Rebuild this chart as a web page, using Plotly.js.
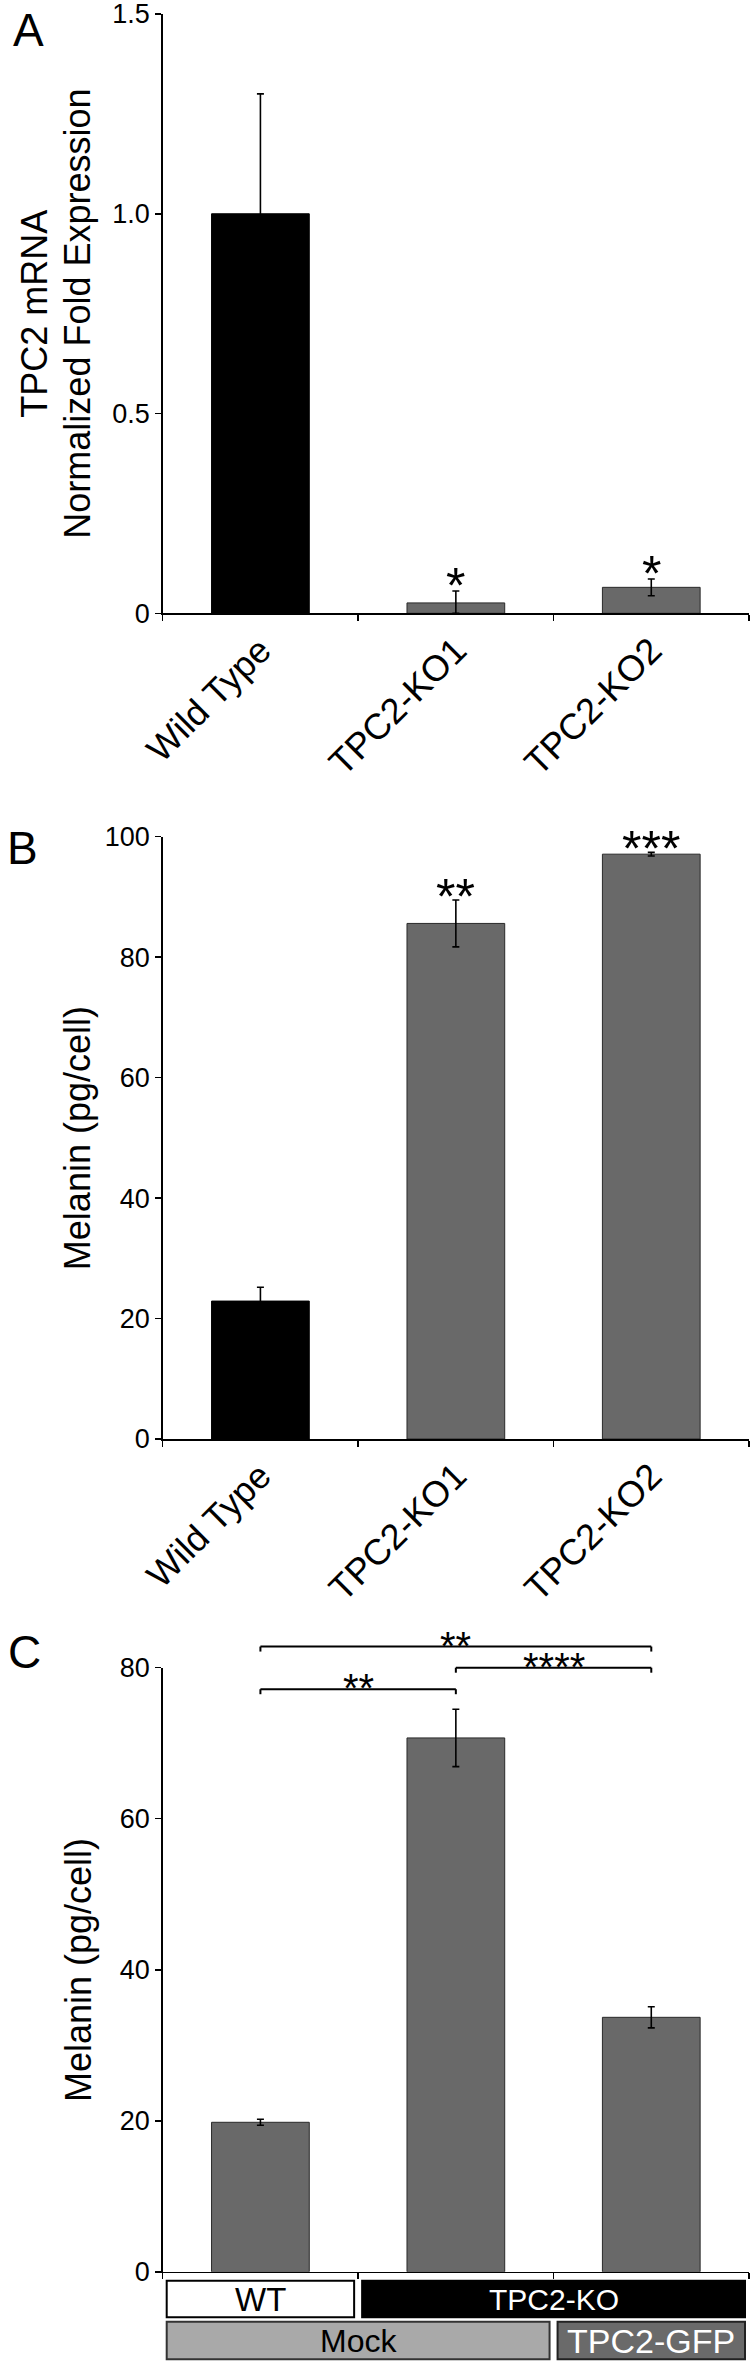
<!DOCTYPE html>
<html>
<head>
<meta charset="utf-8">
<script src="https://cdn.plot.ly/plotly-3.0.1.min.js"></script>
<style>
html,body{margin:0;padding:0;background:#fff;}
#chart{width:752px;height:2362px;}
</style>
</head>
<body>
<div id="chart"></div>
<script>
// ---------------- DATA ----------------
const categoriesAB = ["Wild Type", "TPC2-KO1", "TPC2-KO2"];
const mrnaValues = [1.0, 0.026, 0.065];
const mrnaErrPlus = [0.30, 0.030, 0.021];
const mrnaErrMinus = [0.30, 0.026, 0.021];
const mrnaStars = ["", "*", "*"];

const melaninBValues = [22.9, 85.6, 97.1];
const melaninBErr = [2.3, 3.9, 0.3];
const melaninBStars = ["", "**", "***"];

const categoriesC = ["WT / Mock", "TPC2-KO / Mock", "TPC2-KO / TPC2-GFP"];
const melaninCValues = [19.8, 70.7, 33.7];
const melaninCErr = [0.4, 3.8, 1.4];

// significance comparisons: category index from, to, bracket level (pg/cell), label
const compFrom = [0, 1, 0];
const compTo = [1, 2, 2];
const compLevel = [77.15, 80.0, 82.8];
const compLabel = ["**", "****", "**"];

// group rows under panel C
const genotypeLabels = ["WT", "TPC2-KO"];
const genotypeSpans = [[0, 0], [1, 2]];
const treatmentLabels = ["Mock", "TPC2-GFP"];
const treatmentSpans = [[0, 1], [2, 2]];

const yTicksA = [0, 0.5, 1.0, 1.5];
const yTickTextA = ["0", "0.5", "1.0", "1.5"];
const yTicksB = [0, 20, 40, 60, 80, 100];
const yTicksC = [0, 20, 40, 60, 80];

// ---------------- STYLE / LAYOUT ----------------
const FONT = "Liberation Sans, Arial, Helvetica, sans-serif";
const W = 752, H = 2362;
const GRAY = "#696969";
const X_RANGE = [-0.5, 2.5];
const xDom = [162.7 / W, 749 / W];
const domA = [1 - 613.3 / H, 1 - 14 / H];
const domB = [1 - 1439 / H, 1 - 836.7 / H];
const domC = [1 - 2271.8 / H, 1 - 1667.7 / H];
const rngA = [0, 1.5], rngB = [0, 100], rngC = [0, 80];

function xFrac(c) { return (c - X_RANGE[0]) / (X_RANGE[1] - X_RANGE[0]); }
function yPaper(v, dom, rng) { return dom[0] + (v - rng[0]) / (rng[1] - rng[0]) * (dom[1] - dom[0]); }

const errStyle = {color: "#000", thickness: 1.6, width: 3.5};

const traces = [
  {
    type: "bar", x: categoriesAB, y: mrnaValues, xaxis: "x", yaxis: "y", width: 0.5,
    marker: {color: categoriesAB.map((c, i) => i === 0 ? "#000" : GRAY),
             line: {color: categoriesAB.map((c, i) => i === 0 ? "#000" : "#2a2a2a"), width: 1}},
    error_y: Object.assign({type: "data", symmetric: false, array: mrnaErrPlus, arrayminus: mrnaErrMinus}, errStyle),
    hoverinfo: "none"
  },
  {
    type: "bar", x: categoriesAB, y: melaninBValues, xaxis: "x2", yaxis: "y2", width: 0.5,
    marker: {color: categoriesAB.map((c, i) => i === 0 ? "#000" : GRAY),
             line: {color: categoriesAB.map((c, i) => i === 0 ? "#000" : "#2a2a2a"), width: 1}},
    error_y: Object.assign({type: "data", array: melaninBErr}, errStyle),
    hoverinfo: "none"
  },
  {
    type: "bar", x: categoriesC, y: melaninCValues, xaxis: "x3", yaxis: "y3", width: 0.5,
    marker: {color: GRAY, line: {color: "#2a2a2a", width: 1}},
    error_y: Object.assign({type: "data", array: melaninCErr}, errStyle),
    hoverinfo: "none"
  }
];

const axisCommon = {
  showline: true, linecolor: "#000", linewidth: 1.5,
  ticks: "outside", ticklen: 6, tickwidth: 1.5, tickcolor: "#000",
  showgrid: false, zeroline: false, fixedrange: true, ticklabeloverflow: "allow",
  tickfont: {family: FONT, size: 27, color: "#000"}
};
function xAxis(anchor, showLabels) {
  return Object.assign({}, axisCommon, {
    type: "category", range: X_RANGE, domain: xDom, anchor: anchor,
    tickson: "boundaries", tickangle: -45, showticklabels: showLabels,
    tickfont: {family: FONT, size: 36, color: "#000"}
  });
}
function yAxis(anchor, dom, rng, vals, text) {
  return Object.assign({}, axisCommon, {
    domain: dom, range: rng, anchor: anchor, tickmode: "array",
    tickvals: vals, ticktext: text || vals.map(String)
  });
}

const annotations = [];
const shapes = [];

// panel letters
[["A", 10.7, 2], ["B", 5, 820], ["C", 6.3, 1624]].forEach(([t, left, top]) => {
  annotations.push({text: t, xref: "paper", yref: "paper", x: left / W, y: 1 - top / H,
    xanchor: "left", yanchor: "top", showarrow: false, font: {family: FONT, size: 46, color: "#000"}});
});

// y-axis titles
const titleFont = {family: FONT, size: 36, color: "#000"};
annotations.push({text: "TPC2 mRNA", xref: "paper", yref: "paper",
  x: 35 / W, y: (domA[0] + domA[1]) / 2, textangle: -90, xanchor: "center", yanchor: "middle",
  showarrow: false, font: titleFont});
annotations.push({text: "Normalized Fold Expression", xref: "paper", yref: "paper",
  x: 78 / W, y: (domA[0] + domA[1]) / 2, textangle: -90, xanchor: "center", yanchor: "middle",
  showarrow: false, font: titleFont});
[domB, domC].forEach(d => {
  annotations.push({text: "Melanin (pg/cell)", xref: "paper", yref: "paper",
    x: 78.3 / W, y: (d[0] + d[1]) / 2, textangle: -90, xanchor: "center", yanchor: "middle",
    showarrow: false, font: titleFont});
});

// significance stars, panels A and B
categoriesAB.forEach((c, i) => {
  if (!mrnaStars[i]) return;
  annotations.push({text: mrnaStars[i], xref: "x", yref: "y", x: c, y: mrnaValues[i] + mrnaErrPlus[i],
    xanchor: "center", yanchor: "bottom", yshift: -25, showarrow: false,
    font: {family: FONT, size: 50, color: "#000"}});
});
categoriesAB.forEach((c, i) => {
  if (!melaninBStars[i]) return;
  annotations.push({text: melaninBStars[i], xref: "x2", yref: "y2", x: c, y: melaninBValues[i] + melaninBErr[i],
    xanchor: "center", yanchor: "bottom", yshift: -27, showarrow: false,
    font: {family: FONT, size: 50, color: "#000"}});
});

// brackets, panel C
const tickDrop = 5 / H;
compFrom.forEach((f, k) => {
  const t = compTo[k];
  const yp = yPaper(compLevel[k], domC, rngC);
  const x0 = xFrac(f), x1 = xFrac(t);
  const ls = {color: "#000", width: 2};
  shapes.push({type: "line", xref: "x3 domain", yref: "paper", x0: x0, x1: x1, y0: yp, y1: yp, line: ls});
  shapes.push({type: "line", xref: "x3 domain", yref: "paper", x0: x0, x1: x0, y0: yp, y1: yp - tickDrop, line: ls});
  shapes.push({type: "line", xref: "x3 domain", yref: "paper", x0: x1, x1: x1, y0: yp, y1: yp - tickDrop, line: ls});
  annotations.push({text: compLabel[k], xref: "x3 domain", yref: "paper", x: (x0 + x1) / 2, y: yp,
    xanchor: "center", yanchor: "bottom", yshift: -23, showarrow: false,
    font: {family: FONT, size: 40, color: "#000"}});
});

// group rows below panel C
const inset = 4 / (xDom[1] - xDom[0]) / W;
function rowBox(span, top, bottom, fill, lineColor, label, textColor, fsize) {
  const x0 = xFrac(span[0] - 0.5) + inset, x1 = xFrac(span[1] + 0.5) - inset;
  const y0 = domC[0] - bottom / H, y1 = domC[0] - top / H;
  shapes.push({type: "rect", xref: "x3 domain", yref: "paper", x0: x0, x1: x1, y0: y0, y1: y1,
    fillcolor: fill, line: {color: lineColor, width: 2}});
  annotations.push({text: label, xref: "x3 domain", yref: "paper", x: (x0 + x1) / 2, y: (y0 + y1) / 2,
    xanchor: "center", yanchor: "middle", showarrow: false, borderpad: 0, borderwidth: 0,
    font: {family: FONT, size: fsize, color: textColor}});
}
rowBox(genotypeSpans[0], 9, 45.5, "#fff", "#000", genotypeLabels[0], "#000", 33);
rowBox(genotypeSpans[1], 9, 45.5, "#000", "#000", genotypeLabels[1], "#fff", 30);
rowBox(treatmentSpans[0], 50, 87.5, "#a9a9a9", "#333", treatmentLabels[0], "#000", 32);
rowBox(treatmentSpans[1], 50, 87.5, "#6a6a6a", "#222", treatmentLabels[1], "#fff", 34);

const layout = {
  width: W, height: H, margin: {l: 0, r: 0, t: 0, b: 0},
  paper_bgcolor: "#fff", plot_bgcolor: "rgba(0,0,0,0)",
  showlegend: false, bargap: 0.5,
  font: {family: FONT, color: "#000"},
  xaxis: xAxis("y", true),
  yaxis: yAxis("x", domA, rngA, yTicksA, yTickTextA),
  xaxis2: xAxis("y2", true),
  yaxis2: yAxis("x2", domB, rngB, yTicksB),
  xaxis3: xAxis("y3", false),
  yaxis3: yAxis("x3", domC, rngC, yTicksC),
  annotations: annotations,
  shapes: shapes
};

Plotly.newPlot("chart", traces, layout, {displayModeBar: false, staticPlot: true});
</script>
</body>
</html>
